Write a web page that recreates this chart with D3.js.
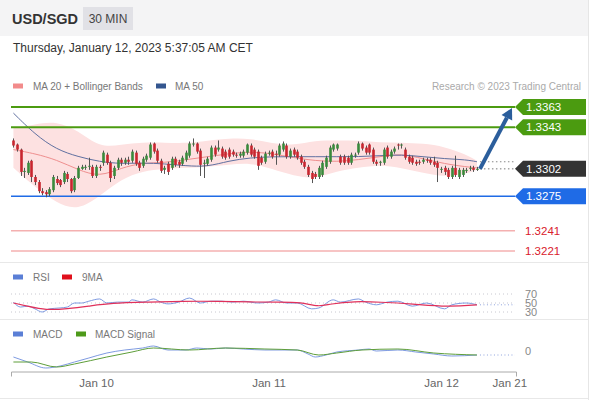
<!DOCTYPE html>
<html><head><meta charset="utf-8">
<script src="https://cdn.jsdelivr.net/npm/d3@7"></script>
<style>body{margin:0;background:#fff;font-family:"Liberation Sans",Arial,sans-serif}svg{display:block}</style>
</head><body><svg id="c" width="590" height="400"></svg>
<script>
const pair = "USD/SGD";
const interval = "30 MIN";
const dateText = "Thursday, January 12, 2023 5:37:05 AM CET";
const credit = "Research \u00a9 2023 Trading Central";
const startTime = Date.UTC(2023, 0, 9, 12, 30);
const stepMs = 30 * 60 * 1000;

const open = [1.3330,1.3326,1.3321,1.3299,1.3298,1.3310,1.3294,1.3289,1.3280,1.3279,
1.3277,1.3281,1.3292,1.3291,1.3289,1.3297,1.3292,1.3281,1.3293,1.3302,
1.3303,1.3304,1.3304,1.3295,1.3304,1.3308,1.3316,1.3308,1.3295,1.3303,
1.3311,1.3308,1.3311,1.3310,1.3318,1.3308,1.3305,1.3311,1.3313,1.3327,
1.3320,1.3310,1.3301,1.3307,1.3303,1.3312,1.3309,1.3307,1.3311,1.3315,
1.3326,1.3327,1.3320,1.3307,1.3307,1.3311,1.3323,1.3321,1.3322,1.3319,
1.3321,1.3319,1.3316,1.3315,1.3315,1.3318,1.3325,1.3321,1.3319,1.3313,
1.3309,1.3317,1.3319,1.3317,1.3316,1.3321,1.3325,1.3314,1.3321,1.3319,
1.3314,1.3309,1.3304,1.3298,1.3297,1.3294,1.3296,1.3304,1.3309,1.3321,
1.3322,1.3314,1.3314,1.3313,1.3308,1.3315,1.3318,1.3327,1.3323,1.3326,
1.3321,1.3309,1.3308,1.3308,1.3323,1.3314,1.3319,1.3326,1.3325,1.3321,
1.3314,1.3313,1.3309,1.3309,1.3309,1.3311,1.3311,1.3309,1.3308,1.3301,
1.3303,1.3301,1.3294,1.3303,1.3294,1.3296,1.3300,1.3302,1.3303,1.3301];
const close = [1.3325,1.3321,1.3299,1.3300,1.3308,1.3294,1.3289,1.3280,1.3278,1.3277,
1.3282,1.3294,1.3288,1.3286,1.3298,1.3292,1.3280,1.3293,1.3303,1.3304,
1.3304,1.3305,1.3295,1.3304,1.3303,1.3318,1.3308,1.3293,1.3303,1.3311,
1.3308,1.3311,1.3309,1.3319,1.3307,1.3303,1.3312,1.3315,1.3326,1.3319,
1.3310,1.3300,1.3303,1.3299,1.3312,1.3306,1.3306,1.3313,1.3318,1.3327,
1.3327,1.3319,1.3306,1.3308,1.3312,1.3323,1.3316,1.3323,1.3314,1.3313,
1.3314,1.3316,1.3315,1.3317,1.3319,1.3326,1.3316,1.3314,1.3305,1.3308,
1.3317,1.3318,1.3314,1.3316,1.3325,1.3327,1.3314,1.3320,1.3316,1.3313,
1.3308,1.3304,1.3296,1.3292,1.3294,1.3303,1.3308,1.3313,1.3323,1.3326,
1.3326,1.3308,1.3308,1.3308,1.3316,1.3316,1.3327,1.3322,1.3318,1.3318,
1.3309,1.3307,1.3309,1.3321,1.3314,1.3319,1.3322,1.3325,1.3326,1.3313,
1.3309,1.3308,1.3307,1.3308,1.3311,1.3310,1.3308,1.3306,1.3303,1.3302,
1.3299,1.3294,1.3303,1.3296,1.3301,1.3301,1.3301,1.3303,1.3301,1.3302];
const high = [1.3332,1.3327,1.3322,1.3303,1.3310,1.3311,1.3296,1.3291,1.3283,1.3281,
1.3284,1.3296,1.3295,1.3292,1.3300,1.3299,1.3293,1.3295,1.3305,1.3306,
1.3306,1.3313,1.3306,1.3306,1.3306,1.3320,1.3318,1.3310,1.3305,1.3313,
1.3313,1.3313,1.3314,1.3321,1.3320,1.3310,1.3314,1.3317,1.3328,1.3328,
1.3322,1.3312,1.3305,1.3309,1.3314,1.3314,1.3311,1.3315,1.3320,1.3329,
1.3332,1.3328,1.3322,1.3311,1.3314,1.3325,1.3325,1.3330,1.3324,1.3321,
1.3323,1.3321,1.3318,1.3319,1.3321,1.3327,1.3327,1.3323,1.3321,1.3315,
1.3319,1.3320,1.3321,1.3320,1.3327,1.3329,1.3327,1.3322,1.3323,1.3321,
1.3316,1.3311,1.3306,1.3300,1.3299,1.3305,1.3310,1.3315,1.3325,1.3327,
1.3327,1.3316,1.3316,1.3315,1.3318,1.3318,1.3329,1.3328,1.3325,1.3327,
1.3323,1.3311,1.3310,1.3323,1.3325,1.3321,1.3324,1.3327,1.3327,1.3323,
1.3316,1.3315,1.3311,1.3311,1.3313,1.3313,1.3313,1.3314,1.3310,1.3304,
1.3305,1.3303,1.3305,1.3315,1.3303,1.3303,1.3303,1.3305,1.3305,1.3304];
const low = [1.3323,1.3319,1.3295,1.3293,1.3296,1.3289,1.3286,1.3278,1.3276,1.3274,
1.3275,1.3279,1.3286,1.3284,1.3287,1.3289,1.3278,1.3279,1.3292,1.3301,
1.3301,1.3301,1.3293,1.3293,1.3300,1.3305,1.3306,1.3289,1.3292,1.3301,
1.3305,1.3306,1.3306,1.3308,1.3305,1.3300,1.3303,1.3309,1.3311,1.3317,
1.3308,1.3298,1.3297,1.3296,1.3301,1.3304,1.3303,1.3305,1.3309,1.3313,
1.3324,1.3317,1.3295,1.3293,1.3305,1.3309,1.3314,1.3319,1.3312,1.3311,
1.3312,1.3314,1.3313,1.3313,1.3313,1.3316,1.3314,1.3312,1.3301,1.3306,
1.3307,1.3315,1.3312,1.3306,1.3314,1.3319,1.3312,1.3312,1.3314,1.3311,
1.3306,1.3302,1.3294,1.3288,1.3292,1.3292,1.3294,1.3302,1.3307,1.3319,
1.3320,1.3306,1.3306,1.3306,1.3306,1.3313,1.3316,1.3320,1.3316,1.3316,
1.3307,1.3305,1.3305,1.3306,1.3312,1.3312,1.3317,1.3321,1.3322,1.3311,
1.3307,1.3306,1.3305,1.3306,1.3307,1.3308,1.3306,1.3304,1.3289,1.3298,
1.3296,1.3292,1.3292,1.3294,1.3292,1.3294,1.3298,1.3300,1.3299,1.3300];

// indicator samples (candle index -> value)
const bandIdx = [0,6,12,18,24,30,36,42,48,54,60,66,72,78,84,90,96,102,108,114,120,126,129];
const ma20 = [1.3321,1.3317,1.3311,1.3301,1.3294,1.3303,1.3308,1.3308,1.3311,1.3314,1.3317,1.3319,1.3317,1.3313,1.3310,1.3309,1.3311,1.3314,1.3317,1.3312,1.3307,1.3304,1.3303];
const bbUpper = [1.3342,1.3346,1.3349,1.3340,1.3323,1.3326,1.3328,1.3328,1.3327,1.3330,1.3332,1.3332,1.3327,1.3325,1.3330,1.3330,1.3330,1.3328,1.3328,1.3327,1.3324,1.3316,1.3310];
const bbLower = [1.3303,1.3284,1.3268,1.3261,1.3275,1.3292,1.3300,1.3302,1.3303,1.3304,1.3306,1.3308,1.3302,1.3295,1.3292,1.3300,1.3303,1.3306,1.3303,1.3298,1.3294,1.3297,1.3301];
const ma50 = [1.3357,1.3336,1.3321,1.3314,1.3309,1.3307,1.3308,1.3307,1.3305,1.3304,1.3310,1.3313,1.3314,1.3314,1.3314,1.3314,1.3314,1.3315,1.3316,1.3314,1.3312,1.3311,1.3309];

const levelValues = [1.3363, 1.3343, 1.3302, 1.3275, 1.3241, 1.3221];
const levelKinds = ["res", "res", "last", "sup", "tgt", "tgt"];

const rsiIdx = [0,2,4,6,8,10,13,15,17,19,21,24,26,29,32,33,36,39,41,43,46,49,52,55,58,61,64,68,71,73,76,79,83,85,89,91,96,98,101,104,107,111,115,120,122,126,129];
const rsiVal = [52,41,43,37,30,37,39,41,50,50,54,59,50,52,52,57,52,59,52,48,52,61,50,54,54,52,54,50,52,57,50,50,37,39,57,52,59,52,46,52,54,43,50,37,46,50,46];
const rsiMaIdx = [0,4,9,15,21,27,38,47,57,66,74,80,85,88,95,102,111,121,129];
const rsiMaVal = [50,43,34,37,43,50,52,54,54,52,52,52,41,48,54,52,48,41,46];
const rsiTicks = [70, 50, 30];

const macdIdx = [0,4,9,13,17,21,26,31,36,39,43,48,51,55,59,64,70,75,79,82,84,87,90,96,99,101,107,112,117,122,129];
const macdVal = [-0.00030,-0.00055,-0.00085,-0.00075,-0.00055,-0.00035,-0.00010,0.00005,0.00015,0.00025,0.00005,0.00005,0.00015,0.00010,0.00015,0.00010,0.00005,0.00005,0.00005,-0.00015,-0.00030,-0.00020,-0.00005,0.00005,0.00010,0.00000,0.00005,-0.00005,-0.00015,-0.00025,-0.00020];
const sigIdx = [0,5,12,17,26,33,39,49,59,70,79,85,90,97,107,117,129];
const sigVal = [-0.00055,-0.00055,-0.00080,-0.00065,-0.00030,-0.00005,0.00015,0.00005,0.00015,0.00010,0.00005,-0.00020,-0.00010,0.00005,0.00010,-0.00010,-0.00020];

const tickDates = [Date.UTC(2023,0,10), Date.UTC(2023,0,11), Date.UTC(2023,0,12), Date.UTC(2023,0,12,9,30)];
const tickLabels = ["Jan 10", "Jan 11", "Jan 12", "Jan 21"];

// ---------- drawing ----------
const svg = d3.select("#c");
const FONT = "'Liberation Sans', Arial, sans-serif";
const times = open.map((_, i) => new Date(startTime + i * stepMs));
const candles = open.map((o, i) => ({t: times[i], o, c: close[i], h: high[i], l: low[i]}));

const x = d3.scaleUtc().domain([Date.UTC(2023,0,9,12,10), Date.UTC(2023,0,12,10,26)]).range([11, 516]);
const y = d3.scaleLinear().domain([1.3363, 1.3221]).range([107, 251]);
const yR = d3.scaleLinear().domain([70, 30]).range([294, 312]);
const yM = d3.scaleLinear().domain([0, -0.001]).range([351, 371]);
const xi = i => x(times[i]);
const plotL = 11, plotR = 515;

// frame
svg.append("rect").attr("x", 0).attr("y", 0).attr("width", 590).attr("height", 400).attr("fill", "#fff");
svg.append("rect").attr("x", 0).attr("y", 0).attr("width", 588).attr("height", 36).attr("fill", "#f4f4f5");
svg.append("line").attr("x1", 588.5).attr("x2", 588.5).attr("y1", 0).attr("y2", 400).attr("stroke", "#e6e6e6");
[262.5, 319.5, 398.5].forEach(v => svg.append("line").attr("x1", 0).attr("x2", 588).attr("y1", v).attr("y2", v).attr("stroke", "#e8e8e8"));

// header
svg.append("text").attr("x", 12).attr("y", 19).attr("dy", "0.35em").attr("font-family", FONT).attr("font-size", 14.5).attr("font-weight", "bold").attr("fill", "#333").text(pair);
svg.append("rect").attr("x", 83).attr("y", 7).attr("width", 50).attr("height", 23).attr("fill", "#e1e1e6");
svg.append("text").attr("x", 108).attr("y", 19).attr("dy", "0.35em").attr("text-anchor", "middle").attr("font-family", FONT).attr("font-size", 12).attr("fill", "#444").text(interval);
svg.append("text").attr("x", 13).attr("y", 48).attr("dy", "0.35em").attr("font-family", FONT).attr("font-size", 12).attr("fill", "#333").text(dateText);

function legend(items, yy) {
  items.forEach(([sx, col, tx, label]) => {
    svg.append("rect").attr("x", sx).attr("y", yy - 2.5).attr("width", 10).attr("height", 5).attr("fill", col);
    svg.append("text").attr("x", tx).attr("y", yy).attr("dy", "0.35em").attr("font-family", FONT).attr("font-size", 10).attr("fill", "#777").text(label);
  });
}
legend([[13, "#f28b8b", 33, "MA 20 + Bollinger Bands"], [156, "#34568f", 175, "MA 50"]], 86);
svg.append("text").attr("x", 581).attr("y", 86).attr("dy", "0.35em").attr("text-anchor", "end").attr("font-family", FONT).attr("font-size", 10).attr("fill", "#aaa").text(credit);
legend([[13, "#5b7fd6", 33, "RSI"], [62, "#e0101c", 82, "9MA"]], 277);
legend([[13, "#5b7fd6", 33, "MACD"], [76, "#4e9a1a", 95, "MACD Signal"]], 334);

// bollinger band + MAs
const bandData = bandIdx.map((k, j) => ({x: xi(k), u: bbUpper[j], lo: bbLower[j], m20: ma20[j], m50: ma50[j]}));
svg.append("path").datum(bandData)
  .attr("d", d3.area().x(d => d.x).y0(d => y(d.lo)).y1(d => y(d.u)).curve(d3.curveBasis))
  .attr("fill", "#fde1e1");
svg.append("path").datum(bandData)
  .attr("d", d3.line().x(d => d.x).y(d => y(d.m20)).curve(d3.curveBasis))
  .attr("fill", "none").attr("stroke", "#ef8f8f").attr("stroke-width", 1);
svg.append("path").datum(bandData)
  .attr("d", d3.line().x(d => d.x).y(d => y(d.m50)).curve(d3.curveBasis))
  .attr("fill", "none").attr("stroke", "#6070a0").attr("stroke-width", 1);

// levels
const levColor = {res: "#4b9b10", last: "#333333", sup: "#1f6be6", tgt: "#f4b0b0"};
levelValues.forEach((v, i) => {
  const k = levelKinds[i], yy = y(v);
  if (k === "res" || k === "sup" || k === "tgt") {
    svg.append("line").attr("x1", plotL).attr("x2", plotR).attr("y1", yy).attr("y2", yy)
      .attr("stroke", levColor[k]).attr("stroke-width", k === "res" ? 2 : 1.5);
  }
  if (k === "tgt") {
    svg.append("text").attr("x", 525).attr("y", yy).attr("dy", "0.35em").attr("font-family", FONT).attr("font-size", 11.5).attr("fill", "#d9202c").text(v.toFixed(4));
  } else {
    svg.append("path").attr("d", `M515,${yy}L523,${yy - 8}H586V${yy + 8}H523Z`).attr("fill", levColor[k]);
    svg.append("text").attr("x", 526).attr("y", yy).attr("dy", "0.35em").attr("font-family", FONT).attr("font-size", 11.5).attr("fill", "#fff").text(v.toFixed(4));
  }
});

// dotted last-value lines
const last = candles.length - 1;
[[y(close[last]), "#777"], [y(ma50[ma50.length - 1]), "#888"]].forEach(([yy, col]) => {
  svg.append("line").attr("x1", xi(last) + 3).attr("x2", plotR).attr("y1", yy).attr("y2", yy)
    .attr("stroke", col).attr("stroke-width", 1).attr("stroke-dasharray", "1.5,2.5");
});

// candles
const cg = svg.append("g");
candles.forEach(d => {
  const cx = Math.round(x(d.t)) + 0.5;
  cg.append("line").attr("x1", cx).attr("x2", cx).attr("y1", y(d.h)).attr("y2", y(d.l)).attr("stroke", "#555").attr("stroke-width", 1);
  const top = y(Math.max(d.o, d.c)), bot = y(Math.min(d.o, d.c));
  cg.append("rect").attr("x", cx - 1.3).attr("y", top).attr("width", 2.6).attr("height", Math.max(1, bot - top))
    .attr("fill", d.c >= d.o ? "#3a8a3c" : "#c8262f");
});

// forecast arrow
const ax0 = xi(last) + 3, ay0 = y(close[last]), ax1 = 512, ay1 = y(levelValues[0]) + 1;
const ang = Math.atan2(ay1 - ay0, ax1 - ax0);
const hl = 11, hw = 6;
const bx = ax1 - hl * Math.cos(ang), by = ay1 - hl * Math.sin(ang);
svg.append("line").attr("x1", ax0).attr("y1", ay0).attr("x2", bx).attr("y2", by).attr("stroke", "#2b5e9c").attr("stroke-width", 4);
svg.append("path").attr("d", `M${ax1},${ay1}L${bx + hw * Math.sin(ang)},${by - hw * Math.cos(ang)}L${bx - hw * Math.sin(ang)},${by + hw * Math.cos(ang)}Z`).attr("fill", "#2b5e9c");

// RSI panel
const rg = svg.append("g");
rsiTicks.forEach(t => {
  rg.append("line").attr("x1", plotL).attr("x2", plotR).attr("y1", yR(t)).attr("y2", yR(t))
    .attr("stroke", "#c8c8d0").attr("stroke-width", 1).attr("stroke-dasharray", "1,3");
  rg.append("text").attr("x", 525).attr("y", yR(t)).attr("dy", "0.35em").attr("font-family", FONT).attr("font-size", 11).attr("fill", "#888").text(t);
});
const rsiPts = rsiIdx.map((k, j) => [xi(k), yR(rsiVal[j])]);
const rsiMaPts = rsiMaIdx.map((k, j) => [xi(k), yR(rsiMaVal[j])]);
rg.append("line").attr("x1", xi(last) + 3).attr("x2", plotR).attr("y1", yR(rsiVal[rsiVal.length - 1])).attr("y2", yR(rsiVal[rsiVal.length - 1]))
  .attr("stroke", "#8fa3dd").attr("stroke-dasharray", "1,2.5");
rg.append("path").attr("d", d3.line().curve(d3.curveMonotoneX)(rsiPts)).attr("fill", "none").attr("stroke", "#6f8fdc").attr("stroke-width", 0.9);
rg.append("path").attr("d", d3.line().curve(d3.curveBasis)(rsiMaPts)).attr("fill", "none").attr("stroke", "#e0305a").attr("stroke-width", 1.2);

// MACD panel
svg.append("text").attr("x", 525).attr("y", yM(0)).attr("dy", "0.35em").attr("font-family", FONT).attr("font-size", 11).attr("fill", "#888").text("0");
const mLast = yM(macdVal[macdVal.length - 1]);
svg.append("line").attr("x1", xi(last) + 3).attr("x2", plotR).attr("y1", mLast).attr("y2", mLast).attr("stroke", "#8fa3dd").attr("stroke-dasharray", "1,2.5");
svg.append("path").attr("d", d3.line().curve(d3.curveMonotoneX)(macdIdx.map((k, j) => [xi(k), yM(macdVal[j])]))).attr("fill", "none").attr("stroke", "#6f8fdc").attr("stroke-width", 0.9);
svg.append("path").attr("d", d3.line().curve(d3.curveMonotoneX)(sigIdx.map((k, j) => [xi(k), yM(sigVal[j])]))).attr("fill", "none").attr("stroke", "#5e9e3a").attr("stroke-width", 1);

// x axis
const axis = d3.axisBottom(x).tickValues(tickDates.map(d => new Date(d))).tickSizeInner(0).tickSizeOuter(5).tickPadding(7)
  .tickFormat((d, i) => tickLabels[i]);
const ag = svg.append("g").attr("transform", "translate(0,371.5)").call(axis);
ag.select(".domain").attr("stroke", "#aaa");
ag.selectAll("text").attr("font-family", FONT).attr("font-size", 11.5).attr("fill", "#666");
</script></body></html>
